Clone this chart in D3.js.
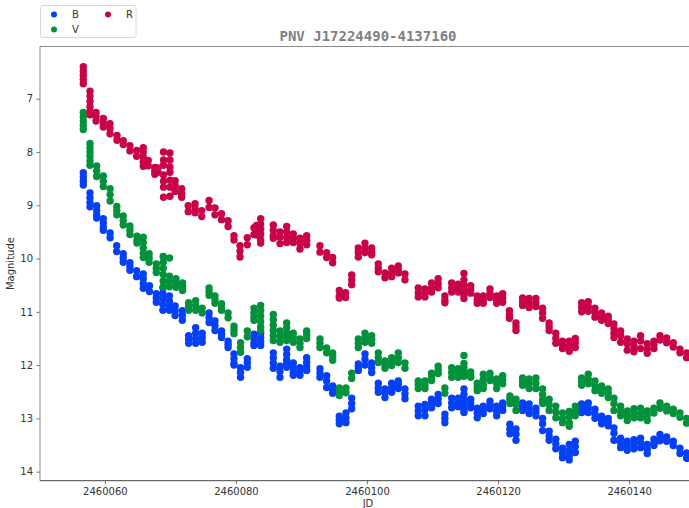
<!DOCTYPE html>
<html><head><meta charset="utf-8">
<script src="https://cdn.jsdelivr.net/npm/d3@7"></script>
<style>body{margin:0;background:#fff;overflow:hidden}svg{display:block}</style>
</head><body>
<script>
const chartTitle = "PNV J17224490-4137160";
const xLabel = "JD";
const yLabel = "Magnitude";
const jdBase = 2460000;
const xTicks = [2460060, 2460080, 2460100, 2460120, 2460140];
const yTicks = [7, 8, 9, 10, 11, 12, 13, 14];
const bandNames = ["B", "V", "R"];
const bandColors = ["#0540f5", "#03923b", "#c8034a"];

const bDays = [56.71,57.73,58.75,59.76,60.80,61.80,62.80,63.82,64.84,65.86,66.80,67.85,68.85,69.85,70.72,71.82,72.78,73.85,74.85,75.90,76.80,77.80,78.80,79.70,80.70,81.73,82.75,83.77,85.70,86.72,87.74,88.75,89.77,90.79,92.82,93.84,94.76,95.77,96.79,97.66,98.67,99.69,100.71,101.72,102.74,103.76,104.77,105.79,107.82,108.84,109.85,110.86,111.88,112.92,113.92,114.79,115.82,116.82,117.74,118.76,119.78,120.70,121.80,122.73,123.74,124.74,125.77,126.79,127.79,128.81,129.83,130.86,131.78,132.75,133.76,134.78,135.80,136.81,137.68,138.70,139.71,140.73,141.74,142.76,143.78,144.70,145.72,146.73,147.75,148.77];
const bMags = [[8.39,8.47,8.55,8.62],[8.77,8.86,8.95,9.03],[9.01,9.10,9.18,9.24],[9.25,9.33,9.41,9.47],[9.52,9.61],[9.76,9.87],[9.91,9.99,10.07],[10.08,10.15,10.22],[10.23,10.34],[10.29,10.38,10.47,10.56],[10.51,10.62],[10.66,10.74,10.82],[10.55,10.65,10.75,10.86,10.97],[10.70,10.80,10.90,10.97],[10.89,10.98,11.07],[10.98,11.07,11.16],[11.45,11.52,11.59],[11.30,11.40,11.50,11.59],[11.40,11.48,11.57],[11.02,11.11,11.20],[11.17,11.26,11.35],[11.36,11.42,11.48],[11.55,11.61,11.67],[11.79,11.88,11.97,12.00],[12.05,12.14,12.23],[11.88,11.96,12.04],[11.42,11.50,11.58,11.63],[11.40,11.48,11.56,11.63],[11.77,11.86,11.96,12.06],[12.02,12.12,12.23],[11.70,11.80,11.90,11.97,12.04],[11.96,12.05,12.13,12.19],[12.05,12.12,12.19],[11.86,11.95,12.03,12.10],[12.07,12.15,12.23],[12.20,12.30,12.42],[12.39,12.46,12.53],[12.96,13.03,13.10],[12.90,12.99,13.08],[12.62,12.72,12.82],[11.98,12.04,12.10],[11.79,11.89,12.00],[11.96,12.05,12.14],[12.34,12.43,12.51],[12.45,12.53,12.61],[12.34,12.43,12.51],[12.30,12.37,12.44],[12.45,12.54,12.63],[12.77,12.86,12.95],[12.74,12.84,12.95],[12.64,12.72,12.80],[12.55,12.63,12.72],[12.92,13.00,13.08],[12.62,12.71,12.80],[12.62,12.71,12.78],[12.45,12.55,12.65,12.75,12.85,12.89],[12.64,12.72,12.80],[12.81,12.90,12.99],[12.77,12.84,12.91],[12.68,12.75,12.82],[12.77,12.86,12.95],[12.71,12.78,12.85],[13.11,13.20,13.29],[13.20,13.30,13.41],[12.71,12.78,12.85],[12.73,12.82,12.91],[12.81,12.88,12.95],[13.00,13.10,13.23],[13.24,13.33,13.41],[13.39,13.48,13.57],[13.56,13.65,13.74],[13.49,13.60,13.70,13.78],[13.43,13.53,13.64],[12.73,12.81,12.89],[12.71,12.80,12.89],[12.83,12.92,13.00],[12.96,13.03,13.10],[13.00,13.07,13.14],[13.18,13.28,13.41],[13.37,13.46,13.55],[13.43,13.52,13.60],[13.40,13.48,13.57],[13.37,13.46,13.55],[13.49,13.58,13.66],[13.39,13.47,13.51],[13.30,13.38,13.42],[13.35,13.43],[13.43,13.51],[13.56,13.66],[13.65,13.75]];

const vDays = [56.71,57.73,58.75,59.76,60.80,61.82,62.80,63.82,64.90,65.86,66.75,67.85,68.90,69.85,70.85,71.85,72.78,73.85,74.85,75.90,76.80,77.80,78.80,79.70,80.70,81.73,82.75,83.77,85.70,86.72,87.74,88.75,89.77,90.79,92.82,93.84,94.76,95.77,96.79,97.66,98.67,99.69,100.71,101.72,102.74,103.76,104.77,105.79,107.82,108.84,109.85,110.86,111.88,112.92,113.92,114.79,115.82,116.82,117.74,118.76,119.78,120.70,121.80,122.73,123.74,124.74,125.77,126.79,127.79,128.81,129.83,130.86,131.78,132.75,133.76,134.78,135.80,136.81,137.68,138.70,139.71,140.73,141.74,142.76,143.78,144.70,145.72,146.73,147.75,148.77];
const vMags = [[7.26,7.34,7.42,7.50,7.58],[7.84,7.92,8.00,8.08,8.17,8.25],[8.26,8.36,8.46],[8.45,8.55,8.65],[8.69,8.80,8.92],[9.02,9.10,9.18],[9.20,9.29,9.37],[9.39,9.47,9.55],[9.58,9.66,9.71],[9.60,9.70,9.80,9.90,9.98],[9.91,9.99,10.07],[10.10,10.18,10.26],[9.96,10.07,10.18,10.30,10.42,10.53],[9.99,10.33,10.43,10.53],[10.38,10.46,10.54],[10.46,10.53,10.60],[10.83,10.90,10.97],[10.79,10.88,10.97],[10.93,11.02],[10.55,10.62,10.69],[10.70,10.77,10.84],[10.85,10.92,10.97],[11.02,11.11],[11.27,11.34,11.41],[11.58,11.67,11.76],[11.36,11.47],[10.93,11.02,11.10,11.16],[10.88,10.98,11.08,11.18,11.28,11.35],[11.05,11.15,11.25,11.35,11.45,11.54],[11.36,11.46,11.57],[11.21,11.30,11.40,11.48,11.54],[11.40,11.48,11.57],[11.51,11.59,11.67],[11.36,11.43,11.50],[11.51,11.59,11.67],[11.68,11.77],[11.77,11.84,11.91],[12.43,12.50,12.57],[12.43,12.52],[12.15,12.25],[11.51,11.59,11.67],[11.40,11.48,11.57],[11.45,11.52,11.59],[11.77,11.86,11.95],[11.92,11.99,12.06],[11.86,11.94,12.01],[11.77,11.86,11.95],[11.96,12.06],[12.30,12.37,12.44],[12.30,12.37,12.44],[12.15,12.22,12.29],[12.02,12.09,12.16],[12.43,12.53],[12.05,12.14,12.23],[12.07,12.15,12.23],[11.82,11.97,12.05,12.13,12.21],[12.13,12.20,12.23],[12.34,12.41,12.48],[12.17,12.27,12.37,12.44],[12.15,12.22,12.29],[12.26,12.34,12.44],[12.20,12.28,12.35],[12.58,12.65,12.72],[12.64,12.74,12.85],[12.24,12.31,12.38],[12.26,12.34,12.44],[12.24,12.34,12.44],[12.45,12.55,12.65,12.72],[12.64,12.74,12.85],[12.77,12.88,12.99],[12.90,13.00,13.08],[12.87,12.97,13.08,13.15],[12.77,12.86,12.95],[12.24,12.31,12.38],[12.17,12.26,12.35],[12.30,12.39,12.48],[12.39,12.46,12.53],[12.45,12.53,12.61],[12.62,12.72,12.85],[12.77,12.86,12.95],[12.86,12.95,13.04],[12.82,12.91,12.99],[12.81,12.90,12.99],[12.86,12.95,13.04],[12.81,12.90],[12.71,12.81],[12.77,12.86],[12.83,12.91],[12.90,12.98],[13.00,13.09]];

const rDays = [56.71,57.73,58.65,59.76,60.78,61.85,62.80,63.82,64.84,65.86,66.62,67.62,68.10,68.95,69.93,70.72,71.72,72.72,73.76,74.78,75.90,76.80,77.80,78.80,79.70,80.62,81.73,82.75,83.16,83.77,85.70,86.72,87.74,88.75,89.77,90.79,92.82,93.84,94.76,95.77,96.72,97.66,98.67,99.69,100.71,101.72,102.74,103.76,104.77,105.79,107.82,108.84,109.85,110.86,111.88,112.92,113.92,114.79,115.82,116.82,117.74,118.76,119.78,120.70,121.73,122.73,123.74,124.74,125.77,126.79,127.79,128.81,129.83,130.86,131.78,132.75,133.76,134.78,135.80,136.81,137.68,138.70,139.71,140.73,141.74,142.76,143.78,144.70,145.72,146.73,147.75,148.77];
const rMags = [[6.40,6.48,6.56,6.64,6.72],[6.86,6.95,7.05,7.15,7.24,7.30],[7.26,7.34,7.42],[7.37,7.45,7.53],[7.47,7.56,7.66],[7.69,7.78],[7.79,7.86],[7.88,7.98],[7.97,8.08],[7.92,8.00,8.10,8.19,8.27],[8.16,8.26],[8.29,8.36,8.42],[8.30,8.38],[8.00,8.15,8.25,8.43,8.55,8.66,8.85],[8.02,8.15,8.28,8.38,8.53,8.66,8.83],[8.54,8.63,8.74],[8.69,8.78,8.85],[9.01,9.12],[8.97,9.06,9.14],[9.10,9.21],[8.91,9.04],[9.05,9.18],[9.16,9.27],[9.29,9.40],[9.57,9.65],[9.76,9.86,9.97],[9.61,9.74],[9.42,9.55],[9.38,9.47,9.56],[9.25,9.35,9.45,9.55,9.65,9.71],[9.37,9.47,9.57,9.62],[9.50,9.60,9.72],[9.40,9.50,9.60,9.70],[9.54,9.62,9.70],[9.62,9.72,9.82],[9.57,9.66,9.74],[9.76,9.88],[9.89,9.98],[9.98,10.08],[10.60,10.70,10.74],[10.64,10.73],[10.31,10.40,10.49],[9.80,9.88,9.97],[9.71,9.80,9.89],[9.80,9.88,9.93],[10.10,10.18,10.25],[10.27,10.36],[10.18,10.27,10.34],[10.14,10.22,10.27],[10.29,10.40],[10.55,10.64,10.72],[10.57,10.65,10.72],[10.46,10.55,10.63],[10.38,10.47,10.55],[10.70,10.78,10.83],[10.46,10.55,10.63],[10.48,10.56,10.63],[10.28,10.40,10.50,10.60,10.68,10.75],[10.51,10.58,10.65],[10.70,10.78,10.84],[10.70,10.78,10.84],[10.57,10.65,10.73],[10.70,10.78,10.84],[10.66,10.74,10.82],[10.98,11.06,11.12],[11.21,11.28,11.35],[10.74,10.82,10.88],[10.75,10.84,10.92],[10.75,10.83,10.90],[10.93,11.02,11.12],[11.21,11.28,11.35],[11.40,11.50,11.59],[11.55,11.62,11.69],[11.55,11.65,11.74],[11.50,11.58,11.67],[10.83,10.92,11.00],[10.81,10.90,10.99],[10.93,11.01,11.10],[11.02,11.10,11.16],[11.08,11.15,11.22],[11.23,11.32,11.40,11.48],[11.36,11.45,11.57],[11.51,11.60,11.72],[11.55,11.65,11.75],[11.45,11.55,11.69],[11.60,11.70,11.78],[11.55,11.62,11.69],[11.45,11.53],[11.49,11.58],[11.58,11.66],[11.70,11.77],[11.77,11.86]];

const W = 689, H = 508;
const m = {left: 40, top: 46.5, right: 696, bottom: 480.7};
const svg = d3.select("body").append("svg").attr("width", W).attr("height", H)
  .style("font-family", "'DejaVu Sans', sans-serif");

const x = d3.scaleLinear().domain([2460050.1, 2460150.2]).range([m.left, m.right]);
const y = d3.scaleLinear().domain([6.02, 14.17]).range([m.top, m.bottom]);

svg.append("defs").append("clipPath").attr("id", "clip")
  .append("rect").attr("x", m.left).attr("y", m.top).attr("width", m.right - m.left).attr("height", m.bottom - m.top);

const bands = [
  {name: bandNames[0], color: bandColors[0], days: bDays, mags: bMags},
  {name: bandNames[1], color: bandColors[1], days: vDays, mags: vMags},
  {name: bandNames[2], color: bandColors[2], days: rDays, mags: rMags}
];

const plot = svg.append("g").attr("clip-path", "url(#clip)");
bands.forEach(b => {
  const pts = [];
  b.days.forEach((d, i) => b.mags[i].forEach(mg => pts.push({jd: jdBase + d, mag: mg})));
  plot.append("g").selectAll("circle").data(pts).join("circle")
    .attr("cx", p => x(p.jd)).attr("cy", p => y(p.mag)).attr("r", 3.7)
    .attr("fill", b.color);
});

// axes
const xAxis = d3.axisBottom(x).tickValues(xTicks).tickFormat(d3.format("d")).tickSize(3.5).tickPadding(3.5);
const yAxis = d3.axisLeft(y).tickValues(yTicks).tickFormat(d3.format("d")).tickSize(3.5).tickPadding(3.5);
const gx = svg.append("g").attr("transform", `translate(0,${m.bottom})`).call(xAxis);
const gy = svg.append("g").attr("transform", `translate(${m.left},0)`).call(yAxis);
[gx, gy].forEach(g => {
  g.select(".domain").remove();
  g.selectAll(".tick line").attr("stroke", "#555").attr("stroke-width", 0.8);
  g.selectAll(".tick text").attr("fill", "#333").style("font-size", "10px").style("font-family", "'DejaVu Sans', sans-serif");
});

// frame
svg.append("line").attr("x1", m.left).attr("x2", m.right).attr("y1", m.top).attr("y2", m.top).attr("stroke", "#8a8a8a").attr("stroke-width", 1);
svg.append("line").attr("x1", m.left).attr("x2", m.left).attr("y1", m.top).attr("y2", m.bottom).attr("stroke", "#8a8a8a").attr("stroke-width", 1);
svg.append("line").attr("x1", m.left).attr("x2", m.right).attr("y1", m.bottom).attr("y2", m.bottom).attr("stroke", "#444").attr("stroke-width", 1);

// labels
svg.append("text").attr("x", 368).attr("y", 41).attr("text-anchor", "middle")
  .style("font-family", "'DejaVu Sans Mono', monospace").style("font-weight", "bold").style("font-size", "14px")
  .attr("fill", "#808080").text(chartTitle);
svg.append("text").attr("x", 368).attr("y", 507).attr("text-anchor", "middle")
  .style("font-size", "10px").attr("fill", "#333").text(xLabel);
svg.append("text").attr("transform", `translate(14,${(m.top + m.bottom) / 2}) rotate(-90)`).attr("text-anchor", "middle")
  .style("font-size", "10px").attr("fill", "#333").text(yLabel);

// legend
const lg = svg.append("g");
lg.append("rect").attr("x", 40.5).attr("y", 5.5).attr("width", 95.5).attr("height", 32).attr("rx", 2)
  .attr("fill", "#fff").attr("stroke", "#d8d8d8");
const legPos = [[54, 14.5], [54, 29.5], [108, 14.5]];
bands.forEach((b, i) => {
  lg.append("circle").attr("cx", legPos[i][0]).attr("cy", legPos[i][1]).attr("r", 3).attr("fill", b.color);
  lg.append("text").attr("x", legPos[i][0] + 18).attr("y", legPos[i][1] + 3.5)
    .style("font-size", "10px").attr("fill", "#333").text(b.name);
});
</script>
</body></html>
